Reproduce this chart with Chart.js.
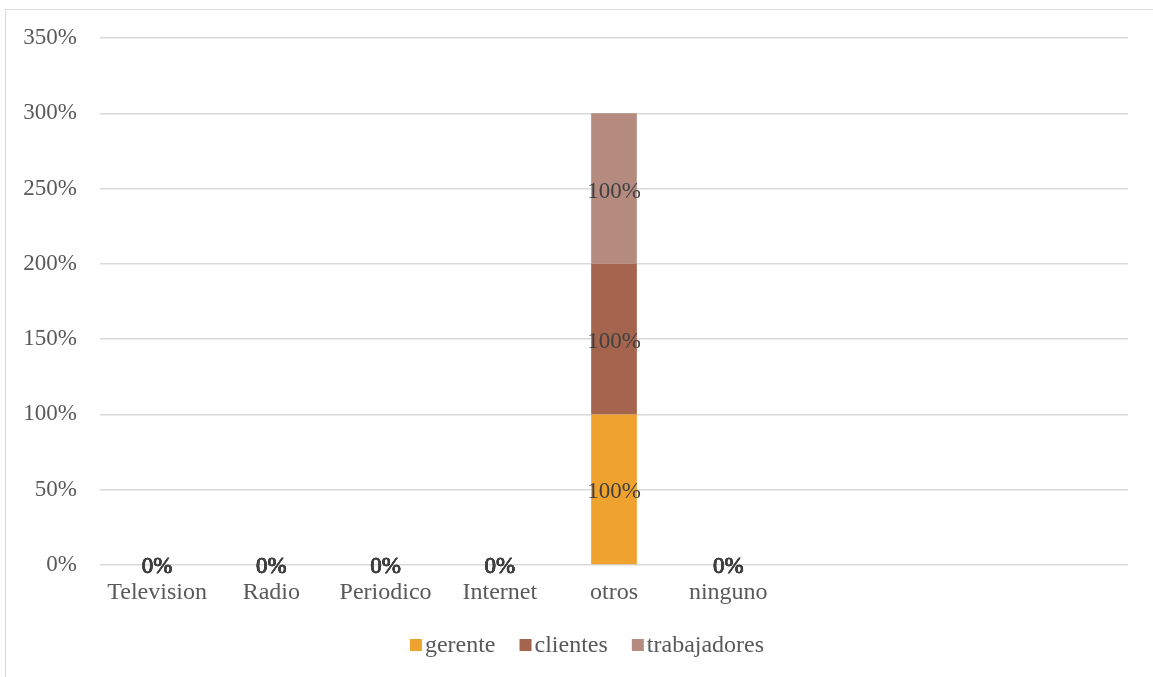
<!DOCTYPE html>
<html>
<head>
<meta charset="utf-8">
<script src="https://cdn.jsdelivr.net/npm/chart.js@4"></script>
<style>
    html, body { margin: 0; padding: 0; background: #fff; overflow: hidden; }
    .frame { position: absolute; left: 5px; top: 9px; width: 1300px; height: 800px; border: 1px solid #d9d9d9; }
    #myChart { position: absolute; left: 0; top: 0; }
</style>
</head>
<body>
<div class="frame"></div>
<canvas id="myChart" width="1153" height="677"></canvas>
<script>
// Categories (last three are empty slots on the axis)
const categories = ['Television', 'Radio', 'Periodico', 'Internet', 'otros', 'ninguno', '', '', ''];

// Series values in percent
const gerente      = [0, 0, 0, 0, 100, 0, null, null, null];
const clientes     = [0, 0, 0, 0, 100, 0, null, null, null];
const trabajadores = [0, 0, 0, 0, 100, 0, null, null, null];

// Y axis ticks
const yTicks = [0, 50, 100, 150, 200, 250, 300, 350];

const seriesNames = ['gerente', 'clientes', 'trabajadores'];
const colors = ['#F0A22E', '#A5644E', '#B58B80'];

const FONT = "'Liberation Serif', 'Times New Roman', serif";

// Writes "n%" on every segment, at its middle; zero segments pile up on the baseline
const valueLabels = {
    id: 'valueLabels',
    afterDatasetsDraw(chart) {
        const ctx = chart.ctx;
        ctx.save();
        ctx.font = '23px ' + FONT;
        ctx.fillStyle = '#404040';
        ctx.strokeStyle = '#404040';
        ctx.lineWidth = 0.5;
        ctx.textAlign = 'center';
        ctx.textBaseline = 'middle';
        chart.data.datasets.forEach((ds, i) => {
            const meta = chart.getDatasetMeta(i);
            meta.data.forEach((bar, j) => {
                const v = ds.data[j];
                if (v === null || v === undefined) return;
                if (v === 0) {
                    const y = bar.base + 2;
                    ctx.fillText('0%', bar.x, y);
                    ctx.strokeText('0%', bar.x, y);
                } else {
                    ctx.fillText(v + '%', bar.x, (bar.y + bar.base) / 2 + 3);
                }
            });
        });
        ctx.restore();
    }
};

// Legend row under the axis: small square then the series name
const bottomLegend = {
    id: 'bottomLegend',
    afterDraw(chart) {
        const ctx = chart.ctx;
        ctx.save();
        ctx.font = '24px ' + FONT;
        ctx.textBaseline = 'middle';
        const box = 12, gap = 3, spacing = 24;
        const items = chart.data.datasets.map(ds => ({
            text: ds.label, color: ds.backgroundColor, w: ctx.measureText(ds.label).width
        }));
        const total = items.reduce((s, it) => s + box + gap + it.w, 0) + spacing * (items.length - 1);
        let x = 587 - total / 2;
        const y = 645;
        items.forEach(it => {
            ctx.fillStyle = it.color;
            ctx.fillRect(x, y - box / 2, box, box);
            ctx.fillStyle = '#595959';
            ctx.fillText(it.text, x + box + gap, y + 1);
            x += box + gap + it.w + spacing;
        });
        ctx.restore();
    }
};

const datasets = [gerente, clientes, trabajadores].map((data, i) => ({
    label: seriesNames[i],
    data: data,
    backgroundColor: colors[i],
    borderWidth: 0,
    barPercentage: 0.4,
    categoryPercentage: 1.0
}));

const chart = new Chart(document.getElementById('myChart').getContext('2d'), {
    type: 'bar',
    data: { labels: categories, datasets: datasets },
    options: {
        responsive: false,
        animation: false,
        layout: { padding: { top: 38, right: 25, left: 0, bottom: 60 } },
        scales: {
            x: {
                stacked: true,
                grid: { display: false, drawTicks: false },
                border: { display: false },
                ticks: {
                    color: '#595959',
                    font: { family: FONT, size: 24 },
                    padding: 13,
                    maxRotation: 0,
                    autoSkip: false
                },
                afterFit: (scale) => { scale.height = 52; }
            },
            y: {
                stacked: true,
                min: 0,
                max: 350,
                afterBuildTicks: (scale) => { scale.ticks = yTicks.map(v => ({ value: v })); },
                grid: { color: '#d9d9d9', lineWidth: 1.5, drawTicks: false },
                border: { display: false },
                ticks: {
                    color: '#595959',
                    font: { family: FONT, size: 23 },
                    padding: 23,
                    callback: (v) => v + '%'
                },
                afterFit: (scale) => { scale.width = 100; }
            }
        },
        plugins: {
            legend: { display: false },
            tooltip: { enabled: false }
        }
    },
    plugins: [valueLabels, bottomLegend]
});
</script>
</body>
</html>
